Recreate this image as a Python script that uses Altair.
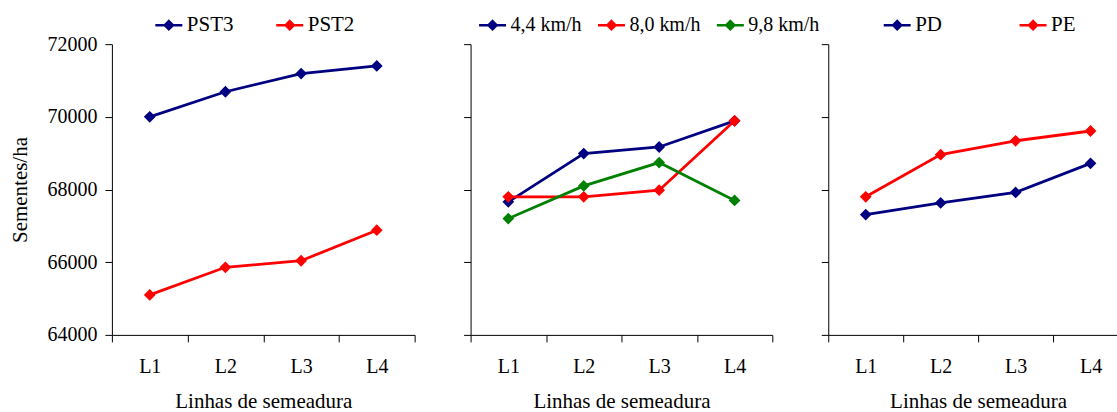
import altair as alt
import pandas as pd

# ---- data ----
linhas = ["L1", "L2", "L3", "L4"]

p1_series = ["PST3", "PST2"]
p1_pst3 = [70000, 70690, 71190, 71400]
p1_pst2 = [65100, 65860, 66040, 66880]

p2_series = ["4,4 km/h", "8,0 km/h", "9,8 km/h"]
p2_v44 = [67660, 68990, 69170, 69890]
p2_v80 = [67800, 67800, 67980, 69890]
p2_v98 = [67200, 68100, 68740, 67700]

p3_series = ["PD", "PE"]
p3_pd = [67310, 67630, 67920, 68720]
p3_pe = [67800, 68960, 69340, 69610]

y_ticks = [64000, 66000, 68000, 70000, 72000]
palette = ["#000080", "#FF0000", "#008000"]

FONT = "Liberation Serif"


def long_df(series, values):
    rows = []
    for s, vals in zip(series, values):
        for l, v in zip(linhas, vals):
            rows.append({"linha": l, "serie": s, "valor": v})
    return pd.DataFrame(rows)


def panel(df, series, width, legend_x, col_pad, label_size, first):
    n = len(series)
    rng = palette[:n]
    x = alt.X(
        "linha:N",
        sort=linhas,
        scale=alt.Scale(paddingInner=0, paddingOuter=0),
        axis=alt.Axis(title="Linhas de semeadura", labelAngle=0, tickBand="extent"),
    )
    yaxis_kw = dict(values=y_ticks, grid=False, format="d", labels=first)
    if first:
        yaxis_kw["title"] = "Sementes/ha"
    else:
        yaxis_kw["title"] = None
    y = alt.Y(
        "valor:Q",
        scale=alt.Scale(domain=[64000, 72000], nice=False, zero=False),
        axis=alt.Axis(**yaxis_kw),
    )
    leg = dict(
        title=None,
        orient="none",
        legendX=legend_x,
        legendY=-34,
        direction="horizontal",
        columnPadding=col_pad,
        symbolType="M-1,0L1,0M0,-0.3L0.3,0L0,0.3L-0.3,0Z",
        symbolSize=729,
        symbolStrokeWidth=2.5,
        labelOffset=3,
        labelFontSize=label_size,
        padding=0,
    )
    base = alt.Chart(df)
    line = base.mark_line(strokeWidth=2.8).encode(
        x=x,
        y=y,
        stroke=alt.Stroke("serie:N", sort=series,
                          scale=alt.Scale(domain=series, range=rng),
                          legend=alt.Legend(**leg)),
    )
    pts = base.mark_point(shape="diamond", size=80, filled=True, opacity=1).encode(
        x=x,
        y=y,
        fill=alt.Fill("serie:N", sort=series,
                      scale=alt.Scale(domain=series, range=rng),
                      legend=alt.Legend(**leg)),
        stroke=alt.Stroke("serie:N", sort=series,
                          scale=alt.Scale(domain=series, range=rng),
                          legend=alt.Legend(**leg)),
    )
    return alt.layer(line, pts).properties(width=width, height=291)


c1 = panel(long_df(p1_series, [p1_pst3, p1_pst2]), p1_series, 303, 42, 37, 21, True)
c2 = panel(long_df(p2_series, [p2_v44, p2_v80, p2_v98]), p2_series, 302, 7, 10, 20, False)
c3 = panel(long_df(p3_series, [p3_pd, p3_pe]), p3_series, 300, 54, 72, 21, False)

chart = (
    alt.hconcat(c1, c2, c3, spacing=56, bounds="flush")
    .resolve_scale(fill="independent", stroke="independent",
                   x="independent", y="independent")
    .configure_view(stroke=None)
    .configure_axis(
        labelFont=FONT, titleFont=FONT, labelFontSize=20, titleFontSize=21,
        labelColor="black", titleColor="black", titleFontWeight="normal",
        domainColor="black", tickColor="black", domainWidth=1, tickWidth=1,
        tickSize=7,
    )
    .configure_axisY(labelPadding=8, titlePadding=16)
    .configure_axisX(labelPadding=15, titlePadding=14)
    .configure_legend(labelFont=FONT, labelFontSize=21, labelColor="black")
)

try:
    final = chart.properties(
        padding={"left": 10, "top": 10, "right": -12, "bottom": 0},
        background="white")
    final.to_dict()
except Exception:
    final = chart.properties(
        padding={"left": 10, "top": 0, "right": 0, "bottom": 0},
        background="white")

final.save("out.html", embed_options={"renderer": "svg", "actions": False})
